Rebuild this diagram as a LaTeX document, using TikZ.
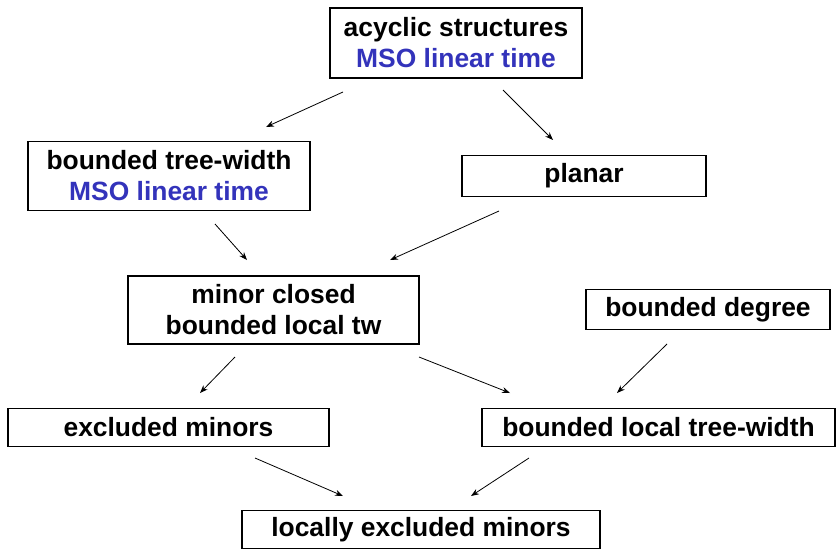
\documentclass[tikz,border=0pt]{standalone}
\usepackage{fontspec}
\setmainfont{Liberation Sans}
\usetikzlibrary{arrows.meta}
\definecolor{msoblue}{RGB}{51,51,187}
\begin{document}
\begin{tikzpicture}[x=1pt,y=-1pt,
  box/.style={draw=black,line width=1.3pt,fill=white,inner sep=0pt,align=center,
    font=\fontsize{26.4}{31}\selectfont\bfseries},
  arr/.style={line width=0.8pt,-{Stealth[length=8pt,width=6pt]}}]
\useasboundingbox (0,0) rectangle (837,549);
\node[box,minimum width=252pt,minimum height=70pt] (acyc) at (456,43) {acyclic structures\\\textcolor{msoblue}{MSO linear time}};
\node[box,minimum width=282pt,minimum height=69pt] (btw) at (169,176) {bounded tree-width\\\textcolor{msoblue}{MSO linear time}};
\node[box,minimum width=244pt,minimum height=41pt] (planar) at (584,176) {planar};
\node[box,minimum width=291pt,minimum height=68pt] (minor) at (273.5,310) {minor closed\\bounded local tw};
\node[box,minimum width=244pt,minimum height=40pt] (deg) at (708,309.5) {bounded degree};
\node[box,minimum width=321pt,minimum height=38pt] (excl) at (168.5,427.5) {excluded minors};
\node[box,minimum width=353pt,minimum height=38pt] (blt) at (658.5,427.5) {bounded local tree-width};
\node[box,minimum width=358pt,minimum height=38pt] (loc) at (421,529.5) {locally excluded minors};
% arrow end points
\coordinate (a1s) at (343,92);  \coordinate (a1e) at (266,127);
\coordinate (a2s) at (503,90);  \coordinate (a2e) at (553,140);
\coordinate (a3s) at (215,224); \coordinate (a3e) at (247,260);
\coordinate (a4s) at (499,211); \coordinate (a4e) at (390,260);
\coordinate (a5s) at (235,357); \coordinate (a5e) at (200,393);
\coordinate (a6s) at (419,357); \coordinate (a6e) at (510,393);
\coordinate (a7s) at (667,344); \coordinate (a7e) at (617,393);
\coordinate (a8s) at (255,458); \coordinate (a8e) at (343,496);
\coordinate (a9s) at (529,458); \coordinate (a9e) at (471,496);
\draw[arr] (a1s) -- (a1e);
\draw[arr] (a2s) -- (a2e);
\draw[arr] (a3s) -- (a3e);
\draw[arr] (a4s) -- (a4e);
\draw[arr] (a5s) -- (a5e);
\draw[arr] (a6s) -- (a6e);
\draw[arr] (a7s) -- (a7e);
\draw[arr] (a8s) -- (a8e);
\draw[arr] (a9s) -- (a9e);
\end{tikzpicture}
\end{document}
